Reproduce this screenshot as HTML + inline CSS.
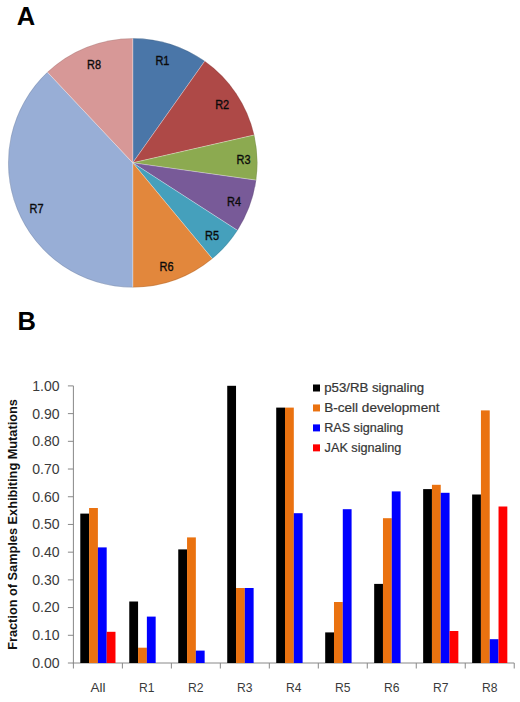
<!DOCTYPE html>
<html><head><meta charset="utf-8"><style>
html,body{margin:0;padding:0;background:#fff;}
body{width:520px;height:702px;overflow:hidden;}
svg{display:block;}
text{font-family:"Liberation Sans",sans-serif;}
.pl{font-size:13px;fill:#0a0a0a;stroke:#0a0a0a;stroke-width:0.35px;}
.yl{font-size:13.8px;fill:#3a3a3a;}
.xl{font-size:13.5px;fill:#3a3a3a;}
.lg{font-size:12px;fill:#363636;stroke:#363636;stroke-width:0.2px;}
.yt{font-size:13px;font-weight:bold;fill:#111;}
.big{font-size:25.5px;font-weight:bold;fill:#000;}
</style></head><body>
<svg width="520" height="702" viewBox="0 0 520 702">
<text x="16.8" y="24.5" class="big">A</text>
<text x="17.6" y="329.5" class="big">B</text>
<path d="M132.75,162.85 L132.75,38.15 A124.7,124.7 0 0 1 204.81,61.08 Z" fill="#4A76A8" stroke="#ffffff" stroke-opacity="0.35" stroke-width="0.8"/><path d="M132.75,162.85 L204.81,61.08 A124.7,124.7 0 0 1 254.30,135.01 Z" fill="#AE4947" stroke="#ffffff" stroke-opacity="0.35" stroke-width="0.8"/><path d="M132.75,162.85 L254.30,135.01 A124.7,124.7 0 0 1 256.24,180.20 Z" fill="#8CAA50" stroke="#ffffff" stroke-opacity="0.35" stroke-width="0.8"/><path d="M132.75,162.85 L256.24,180.20 A124.7,124.7 0 0 1 237.57,230.40 Z" fill="#785A98" stroke="#ffffff" stroke-opacity="0.35" stroke-width="0.8"/><path d="M132.75,162.85 L237.57,230.40 A124.7,124.7 0 0 1 212.40,258.79 Z" fill="#45A0BC" stroke="#ffffff" stroke-opacity="0.35" stroke-width="0.8"/><path d="M132.75,162.85 L212.40,258.79 A124.7,124.7 0 0 1 132.75,287.55 Z" fill="#E2873C" stroke="#ffffff" stroke-opacity="0.35" stroke-width="0.8"/><path d="M132.75,162.85 L132.75,287.55 A124.7,124.7 0 0 1 47.31,72.02 Z" fill="#98AED6" stroke="#ffffff" stroke-opacity="0.35" stroke-width="0.8"/><path d="M132.75,162.85 L47.31,72.02 A124.7,124.7 0 0 1 132.75,38.15 Z" fill="#D79897" stroke="#ffffff" stroke-opacity="0.35" stroke-width="0.8"/>
<circle cx="132.75" cy="162.85" r="124.3" fill="none" stroke="#000" stroke-opacity="0.10" stroke-width="1"/>
<text x="155.4" y="64.7" class="pl" textLength="14" lengthAdjust="spacingAndGlyphs">R1</text><text x="215.2" y="109" class="pl" textLength="14" lengthAdjust="spacingAndGlyphs">R2</text><text x="236.6" y="164" class="pl" textLength="14" lengthAdjust="spacingAndGlyphs">R3</text><text x="227.1" y="206" class="pl" textLength="14" lengthAdjust="spacingAndGlyphs">R4</text><text x="205.1" y="240" class="pl" textLength="14" lengthAdjust="spacingAndGlyphs">R5</text><text x="159.6" y="271.2" class="pl" textLength="14" lengthAdjust="spacingAndGlyphs">R6</text><text x="29.6" y="212.7" class="pl" textLength="14" lengthAdjust="spacingAndGlyphs">R7</text><text x="87.1" y="68.6" class="pl" textLength="14" lengthAdjust="spacingAndGlyphs">R8</text>
<line x1="73.4" y1="385.90" x2="73.4" y2="663.5" stroke="#888888" stroke-width="1"/><line x1="72.9" y1="663.0" x2="514.22" y2="663.0" stroke="#888888" stroke-width="1"/><line x1="67.9" y1="663.00" x2="73.4" y2="663.00" stroke="#888888" stroke-width="1"/><line x1="67.9" y1="635.29" x2="73.4" y2="635.29" stroke="#888888" stroke-width="1"/><line x1="67.9" y1="607.58" x2="73.4" y2="607.58" stroke="#888888" stroke-width="1"/><line x1="67.9" y1="579.87" x2="73.4" y2="579.87" stroke="#888888" stroke-width="1"/><line x1="67.9" y1="552.16" x2="73.4" y2="552.16" stroke="#888888" stroke-width="1"/><line x1="67.9" y1="524.45" x2="73.4" y2="524.45" stroke="#888888" stroke-width="1"/><line x1="67.9" y1="496.74" x2="73.4" y2="496.74" stroke="#888888" stroke-width="1"/><line x1="67.9" y1="469.03" x2="73.4" y2="469.03" stroke="#888888" stroke-width="1"/><line x1="67.9" y1="441.32" x2="73.4" y2="441.32" stroke="#888888" stroke-width="1"/><line x1="67.9" y1="413.61" x2="73.4" y2="413.61" stroke="#888888" stroke-width="1"/><line x1="67.9" y1="385.90" x2="73.4" y2="385.90" stroke="#888888" stroke-width="1"/><line x1="73.40" y1="663.0" x2="73.40" y2="668.5" stroke="#888888" stroke-width="1"/><line x1="122.38" y1="663.0" x2="122.38" y2="668.5" stroke="#888888" stroke-width="1"/><line x1="171.36" y1="663.0" x2="171.36" y2="668.5" stroke="#888888" stroke-width="1"/><line x1="220.34" y1="663.0" x2="220.34" y2="668.5" stroke="#888888" stroke-width="1"/><line x1="269.32" y1="663.0" x2="269.32" y2="668.5" stroke="#888888" stroke-width="1"/><line x1="318.30" y1="663.0" x2="318.30" y2="668.5" stroke="#888888" stroke-width="1"/><line x1="367.28" y1="663.0" x2="367.28" y2="668.5" stroke="#888888" stroke-width="1"/><line x1="416.26" y1="663.0" x2="416.26" y2="668.5" stroke="#888888" stroke-width="1"/><line x1="465.24" y1="663.0" x2="465.24" y2="668.5" stroke="#888888" stroke-width="1"/><line x1="514.22" y1="663.0" x2="514.22" y2="668.5" stroke="#888888" stroke-width="1"/>
<rect x="80.29" y="513.60" width="8.8" height="149.40" fill="#000000"/><rect x="89.09" y="508.00" width="8.8" height="155.00" fill="#EA7210"/><rect x="97.89" y="547.40" width="8.8" height="115.60" fill="#0000FF"/><rect x="106.69" y="631.80" width="8.8" height="31.20" fill="#FF0000"/><rect x="129.27" y="601.50" width="8.8" height="61.50" fill="#000000"/><rect x="138.07" y="647.70" width="8.8" height="15.30" fill="#EA7210"/><rect x="146.87" y="616.60" width="8.8" height="46.40" fill="#0000FF"/><rect x="178.25" y="549.40" width="8.8" height="113.60" fill="#000000"/><rect x="187.05" y="537.40" width="8.8" height="125.60" fill="#EA7210"/><rect x="195.85" y="650.60" width="8.8" height="12.40" fill="#0000FF"/><rect x="227.23" y="385.80" width="8.8" height="277.20" fill="#000000"/><rect x="236.03" y="588.00" width="8.8" height="75.00" fill="#EA7210"/><rect x="244.83" y="588.00" width="8.8" height="75.00" fill="#0000FF"/><rect x="276.21" y="407.60" width="8.8" height="255.40" fill="#000000"/><rect x="285.01" y="407.60" width="8.8" height="255.40" fill="#EA7210"/><rect x="293.81" y="513.20" width="8.8" height="149.80" fill="#0000FF"/><rect x="325.19" y="632.40" width="8.8" height="30.60" fill="#000000"/><rect x="333.99" y="602.00" width="8.8" height="61.00" fill="#EA7210"/><rect x="342.79" y="509.20" width="8.8" height="153.80" fill="#0000FF"/><rect x="374.17" y="583.90" width="8.8" height="79.10" fill="#000000"/><rect x="382.97" y="518.20" width="8.8" height="144.80" fill="#EA7210"/><rect x="391.77" y="491.40" width="8.8" height="171.60" fill="#0000FF"/><rect x="423.15" y="489.10" width="8.8" height="173.90" fill="#000000"/><rect x="431.95" y="484.80" width="8.8" height="178.20" fill="#EA7210"/><rect x="440.75" y="492.80" width="8.8" height="170.20" fill="#0000FF"/><rect x="449.55" y="631.00" width="8.8" height="32.00" fill="#FF0000"/><rect x="472.13" y="494.50" width="8.8" height="168.50" fill="#000000"/><rect x="480.93" y="410.40" width="8.8" height="252.60" fill="#EA7210"/><rect x="489.73" y="639.20" width="8.8" height="23.80" fill="#0000FF"/><rect x="498.53" y="506.50" width="8.8" height="156.50" fill="#FF0000"/>
<text x="32.3" y="667.90" class="yl" textLength="27.3" lengthAdjust="spacingAndGlyphs">0.00</text><text x="32.3" y="640.19" class="yl" textLength="27.3" lengthAdjust="spacingAndGlyphs">0.10</text><text x="32.3" y="612.48" class="yl" textLength="27.3" lengthAdjust="spacingAndGlyphs">0.20</text><text x="32.3" y="584.77" class="yl" textLength="27.3" lengthAdjust="spacingAndGlyphs">0.30</text><text x="32.3" y="557.06" class="yl" textLength="27.3" lengthAdjust="spacingAndGlyphs">0.40</text><text x="32.3" y="529.35" class="yl" textLength="27.3" lengthAdjust="spacingAndGlyphs">0.50</text><text x="32.3" y="501.64" class="yl" textLength="27.3" lengthAdjust="spacingAndGlyphs">0.60</text><text x="32.3" y="473.93" class="yl" textLength="27.3" lengthAdjust="spacingAndGlyphs">0.70</text><text x="32.3" y="446.22" class="yl" textLength="27.3" lengthAdjust="spacingAndGlyphs">0.80</text><text x="32.3" y="418.51" class="yl" textLength="27.3" lengthAdjust="spacingAndGlyphs">0.90</text><text x="32.3" y="390.80" class="yl" textLength="27.3" lengthAdjust="spacingAndGlyphs">1.00</text>
<text x="97.89" y="691.6" class="xl" text-anchor="middle">All</text><text x="146.87" y="691.6" class="xl" text-anchor="middle" textLength="15.5" lengthAdjust="spacingAndGlyphs">R1</text><text x="195.85" y="691.6" class="xl" text-anchor="middle" textLength="15.5" lengthAdjust="spacingAndGlyphs">R2</text><text x="244.83" y="691.6" class="xl" text-anchor="middle" textLength="15.5" lengthAdjust="spacingAndGlyphs">R3</text><text x="293.81" y="691.6" class="xl" text-anchor="middle" textLength="15.5" lengthAdjust="spacingAndGlyphs">R4</text><text x="342.79" y="691.6" class="xl" text-anchor="middle" textLength="15.5" lengthAdjust="spacingAndGlyphs">R5</text><text x="391.77" y="691.6" class="xl" text-anchor="middle" textLength="15.5" lengthAdjust="spacingAndGlyphs">R6</text><text x="440.75" y="691.6" class="xl" text-anchor="middle" textLength="15.5" lengthAdjust="spacingAndGlyphs">R7</text><text x="489.73" y="691.6" class="xl" text-anchor="middle" textLength="15.5" lengthAdjust="spacingAndGlyphs">R8</text>
<rect x="313" y="384.50" width="7" height="7" fill="#000000"/><text x="324.2" y="392.40" class="lg" textLength="100" lengthAdjust="spacingAndGlyphs">p53/RB signaling</text><rect x="313" y="404.45" width="7" height="7" fill="#EA7210"/><text x="324.2" y="412.35" class="lg" textLength="115.3" lengthAdjust="spacingAndGlyphs">B-cell development</text><rect x="313" y="424.40" width="7" height="7" fill="#0000FF"/><text x="324.2" y="432.30" class="lg" textLength="79.2" lengthAdjust="spacingAndGlyphs">RAS signaling</text><rect x="313" y="444.35" width="7" height="7" fill="#FF0000"/><text x="324.6" y="452.25" class="lg" textLength="76.8" lengthAdjust="spacingAndGlyphs">JAK signaling</text>
<text transform="translate(17.4,649.8) rotate(-90)" x="0" y="0" class="yt" textLength="250.7" lengthAdjust="spacingAndGlyphs">Fraction of Samples Exhibiting Mutations</text>
</svg>
</body></html>
